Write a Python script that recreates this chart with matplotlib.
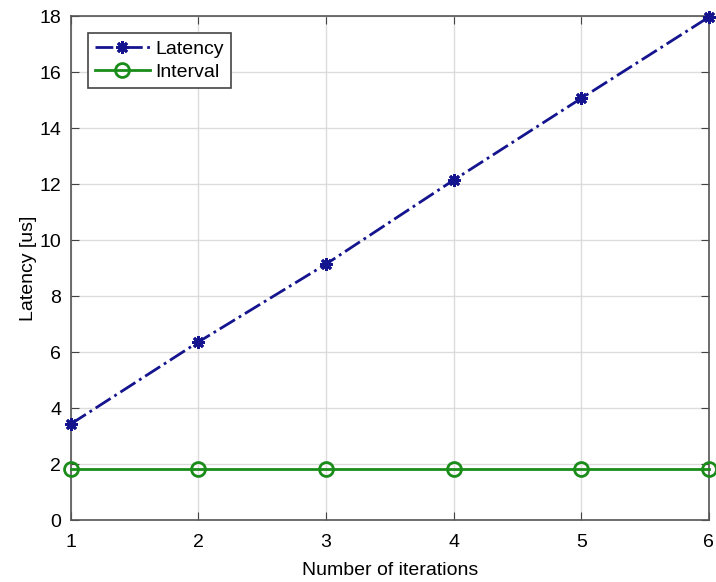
import numpy as np
import matplotlib.pyplot as plt

plt.rcParams['font.family'] = ['Liberation Sans', 'DejaVu Sans']

iterations = [1, 2, 3, 4, 5, 6]
latency = [3.43, 6.36, 9.14, 12.14, 15.06, 17.96]
interval = [1.83, 1.83, 1.83, 1.83, 1.83, 1.83]

fig = plt.figure(figsize=(7.16, 5.82), dpi=100)
ax = fig.add_axes([0.099, 0.1065, 0.891, 0.866])

ax.plot(iterations, latency, color='#14148f', linestyle='-.', linewidth=2,
        marker=(8, 2, 0), markersize=9, markeredgewidth=2, label='Latency',
        clip_on=False, zorder=3)
ax.plot(iterations, interval, color='#1a8c1a', linestyle='-', linewidth=2,
        marker='o', markersize=10, markerfacecolor='none', markeredgewidth=2,
        label='Interval', clip_on=False, zorder=3)

ax.set_xlim(1, 6)
ax.set_ylim(0, 18)
ax.set_xticks(iterations)
ax.set_yticks(np.arange(0, 19, 2))
ax.grid(True, color='#dcdcdc', linewidth=1)
ax.set_axisbelow(True)
ax.tick_params(direction='in', top=True, right=True, labelsize=14, length=6,
               color='#444444', pad=10)
ax.tick_params(axis='y', pad=7)
for s in ax.spines.values():
    s.set_color('#555555')
    s.set_linewidth(1.2)

ax.set_xlabel('Number of iterations', fontsize=14, labelpad=8)
ax.set_ylabel('Latency [us]', fontsize=14, labelpad=2)

leg = ax.legend(loc='upper left', fontsize=14, fancybox=False, framealpha=1,
                edgecolor='#444444', borderpad=0.35, handlelength=2.8,
                handletextpad=0.3, labelspacing=0.3,
                bbox_to_anchor=(0.012, 0.985))
leg.get_frame().set_linewidth(1.2)

fig.savefig('out.png', dpi=100)
